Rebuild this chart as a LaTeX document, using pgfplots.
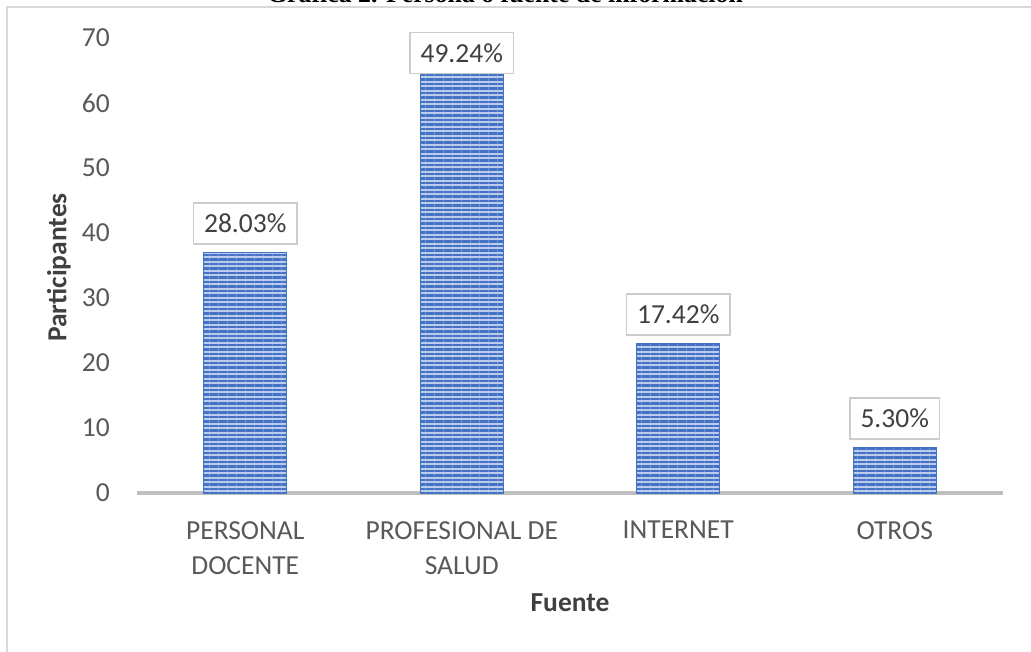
\documentclass[border=0pt]{standalone}
\usepackage{fontspec}
\setmainfont{Carlito}
\newfontfamily\titlefont{Liberation Serif}
\usepackage{pgfplots}
\usepackage{pgfplotstable}
\pgfplotsset{compat=1.18}
\usetikzlibrary{patterns.meta}
\definecolor{barblue}{HTML}{4472C4}
\definecolor{barlight}{HTML}{BACBEB}
\definecolor{ticktext}{HTML}{595959}
\definecolor{labtext}{HTML}{404040}
\definecolor{axisgray}{HTML}{BFBFBF}
\definecolor{bordergray}{HTML}{D9D9D9}

\pgfplotstableread{
x y lab off
0 37 28.03 8
1 65 49.24 -3.5
2 23 17.42 8
3 7 5.30 8
}\datatable

\begin{document}
\begin{tikzpicture}
\begin{axis}[
  scale only axis, width=866pt, height=455pt,
  xmin=-0.5, xmax=3.5, ymin=0, ymax=70,
  ybar, bar width=83pt, bar shift=0pt,
  xtick={0,1,2,3},
  xticklabels={{PERSONAL\\DOCENTE},{PROFESIONAL DE\\SALUD},{INTERNET},{OTROS}},
  ytick={0,10,...,70},
  major tick length=0pt,
  axis x line*=bottom, axis y line*=left,
  x axis line style={draw=axisgray, line width=4pt},
  y axis line style={draw=none},
  /pgf/number format/assume math mode=true,
  tick label style={font=\fontsize{27.5}{35}\selectfont, text=ticktext},
  yticklabel style={anchor=east, inner sep=0pt, xshift=-27pt},
  xticklabel style={anchor=north, inner sep=0pt, yshift=-28pt, align=center},
  xlabel={\textbf{Fuente}},
  xlabel style={at={(axis description cs:0.5,0)}, anchor=center, yshift=-110pt,
    font=\fontsize{27.5}{33}\selectfont, text=labtext},
  ylabel={\textbf{Participantes}},
  ylabel style={at={(axis description cs:-0.0901,0.4956)}, anchor=center,
    font=\fontsize{27.5}{33}\selectfont, text=labtext},
  point meta=explicit symbolic,
  visualization depends on={\thisrow{off} \as \labeloff},
  nodes near coords={\pgfplotspointmeta\%},
  nodes near coords style={font=\fontsize{27.5}{33}\selectfont, text=labtext,
    draw=axisgray!80, line width=1.5pt, fill=white, inner xsep=10.5pt, inner ysep=0pt,
    minimum height=41pt, anchor=south, yshift=\labeloff*1pt},
]
\addplot[fill=barlight, draw=barblue, line width=0.6pt,
  postaction={pattern={Lines[angle=0,distance=4.5pt,line width=2.3pt]}, pattern color=barblue}]
  table[x=x, y=y, meta=lab] {\datatable};
\end{axis}
\draw[bordergray, line width=1.2pt] (-130pt,-170pt) -- (-130pt,486pt) -- (900pt,486pt);
\node[anchor=base, font=\titlefont\bfseries\fontsize{25.8}{30}\selectfont] at (368pt,490pt)
  {Gráfica 2. Persona o fuente de información};
\pgfresetboundingbox
\useasboundingbox (-137pt,-158pt) rectangle (894pt,493pt);
\end{tikzpicture}
\end{document}
